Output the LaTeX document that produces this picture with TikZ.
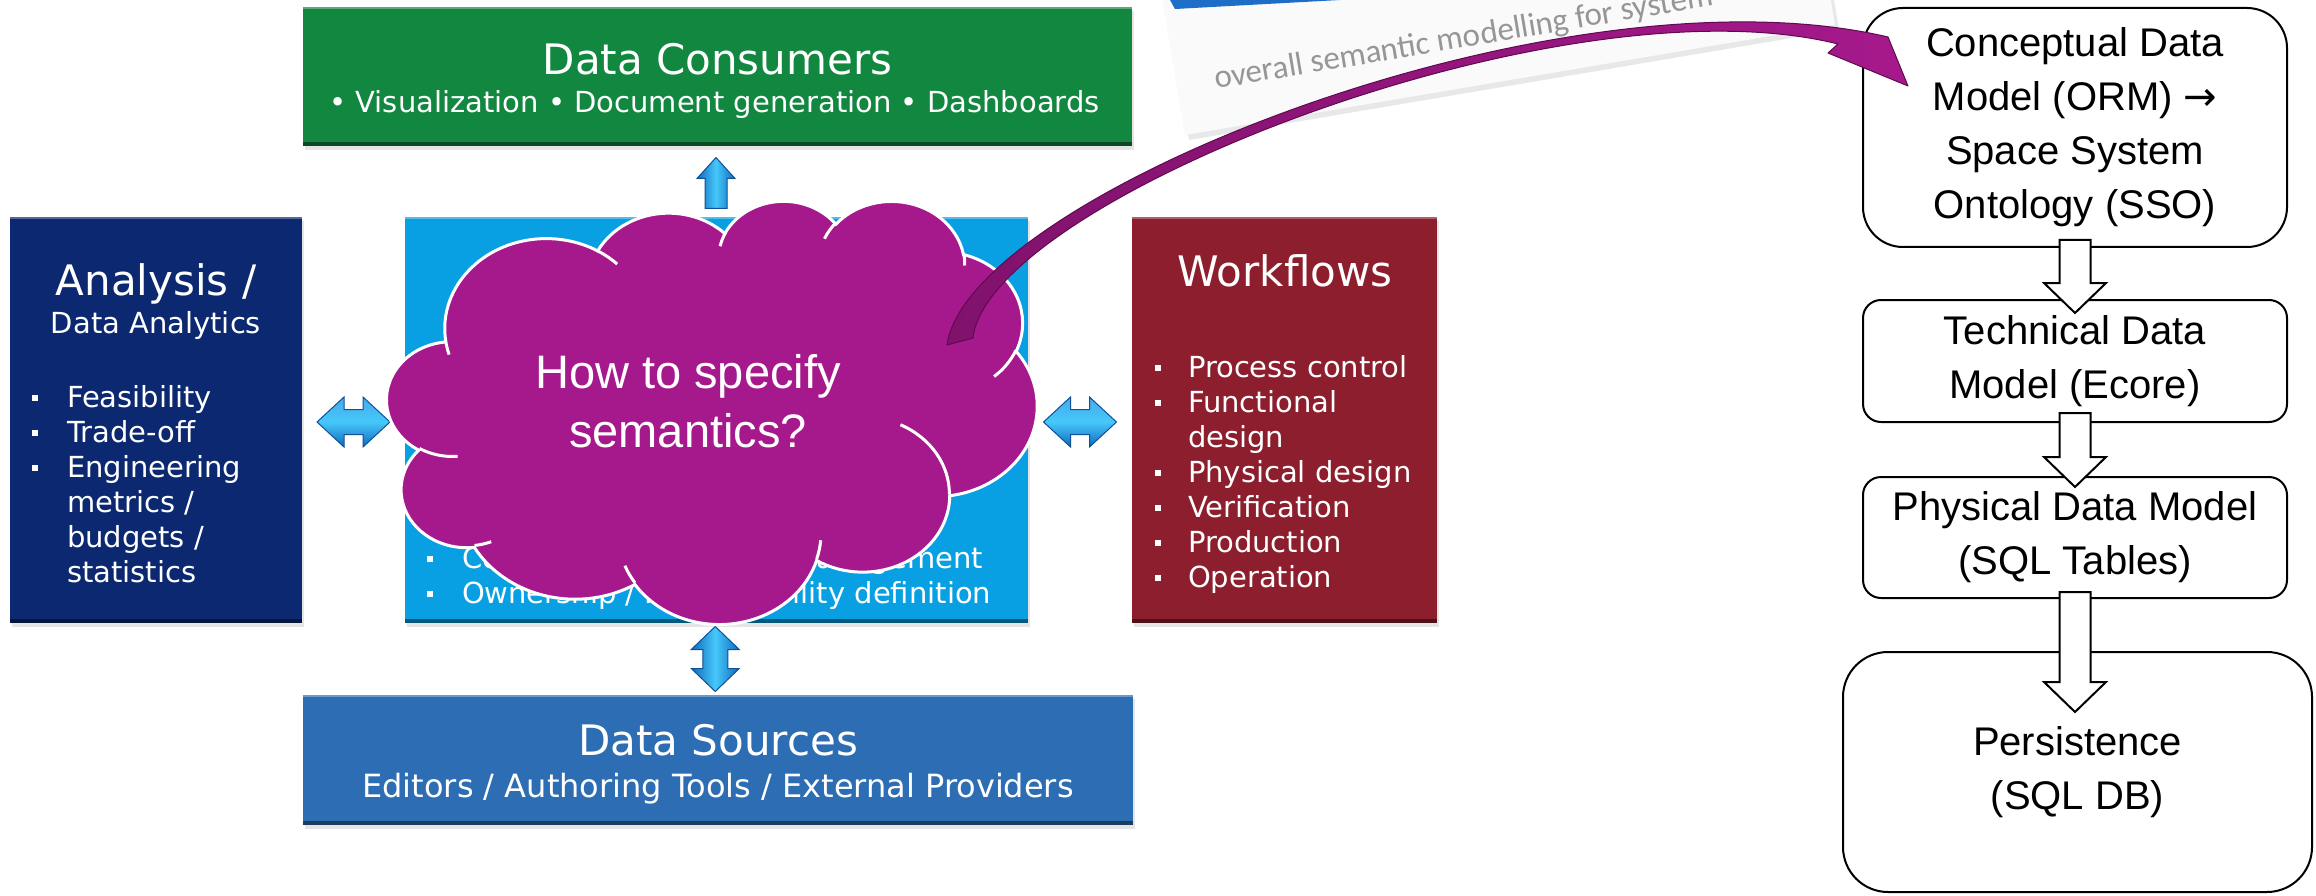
\documentclass[tikz,border=0pt]{standalone}
\usepackage{tikz}
\usepackage{fontspec}
\setmainfont{Liberation Sans}
\newfontfamily\dv{DejaVu Sans}
\newfontfamily\carl{Carlito}
\usetikzlibrary{calc,shadows}

\definecolor{cgreen}{RGB}{18,135,64}
\definecolor{cnavy}{RGB}{11,40,112}
\definecolor{ccyan}{RGB}{8,160,226}
\definecolor{cred}{RGB}{140,30,46}
\definecolor{cblue}{RGB}{44,109,179}
\definecolor{cpurple}{RGB}{166,25,140}
\definecolor{cpurpled}{RGB}{128,18,108}
\definecolor{cpurpleo}{RGB}{95,10,80}
\definecolor{bluehi}{RGB}{70,170,235}
\definecolor{bluemid}{RGB}{70,200,250}
\definecolor{bluelo}{RGB}{15,105,190}
\definecolor{bluedk}{RGB}{15,80,150}
\definecolor{ptext}{RGB}{150,150,150}
\definecolor{pblue}{RGB}{30,110,200}

\newcommand\mkarc[5]{%
  \pgfmathsetmacro\mkA{atan2((#2)*sin(#4),(#3)*cos(#4))}%
  \pgfmathsetmacro\mkB{atan2((#2)*sin((#4)+(#5)),(#3)*cos((#4)+(#5)))}%
  \pgfmathsetmacro\mkD{\mkB-\mkA}%
  \pgfmathsetmacro\mkD{\mkD+360*and(#5>0,\mkD<0)-360*and(#5<0,\mkD>0)}%
  \expandafter\xdef\csname arcS#1\endcsname{\mkA}%
  \expandafter\xdef\csname arcD#1\endcsname{\mkD}%
}
\mkarc{a}{675.3}{919.0}{-190.4875}{123.7805}
\mkarc{b}{533.3}{726.7}{-144.1024}{89.9452}
\mkarc{c}{436.5}{594.5}{-145.8079}{99.7230}
\mkarc{d}{485.7}{659.5}{-130.9861}{117.2417}
\mkarc{e}{533.3}{727.3}{-78.7089}{109.0269}
\mkarc{f}{677.5}{922.0}{-46.2673}{130.2690}
\mkarc{g}{578.5}{786.7}{0.6250}{114.0333}
\mkarc{h}{675.2}{921.5}{22.4516}{115.1726}
\mkarc{i}{772.0}{1054.3}{66.2426}{75.7110}
\mkarc{j}{436.0}{591.8}{-274.9421}{146.7356}
\mkarc{k}{434.5}{594.5}{-246.8285}{152.5189}
\mkarc{ia}{434.5}{594.5}{86.7420}{26.4295}
\mkarc{ib}{436.0}{591.8}{73.6105}{11.4475}
\mkarc{ic}{675.2}{921.5}{137.6242}{14.0811}
\mkarc{id}{675.2}{921.5}{6.4533}{15.9984}
\mkarc{ie}{578.5}{786.7}{-70.2924}{70.9174}
\mkarc{if}{533.3}{727.3}{30.3180}{27.7515}
\mkarc{ig}{485.7}{659.5}{-13.7443}{14.8589}
\mkarc{ih}{485.7}{659.5}{-149.1815}{18.1954}
\mkarc{ii}{436.5}{594.5}{-163.4943}{17.6864}
\mkarc{ij}{675.3}{919.0}{-66.7070}{12.3194}
\mkarc{ik}{675.3}{919.0}{157.6544}{11.8582}

\newcommand\rim[2]{%
  \draw[line width=4pt,#2!55!black] ([yshift=2pt]#1.south west) -- ([yshift=2pt]#1.south east);
  \draw[line width=2pt,#2!70!white] ([yshift=-1pt]#1.north west) -- ([yshift=-1pt]#1.north east);
}

\begin{document}
\begin{tikzpicture}[x=1pt,y=-1pt,
  wt/.style={text=white, inner sep=0pt, outer sep=0pt},
  ttl/.style={font=\dv\fontsize{42}{50}\selectfont},
  lst/.style={font=\dv\fontsize{29}{35}\selectfont},
  cbox/.style={rectangle, inner sep=0pt, outer sep=0pt,
    drop shadow={shadow xshift=2pt, shadow yshift=-4pt, opacity=0.2}},
  rbox/.style={rectangle, draw=black, line width=2pt, fill=white, rounded corners=#1,
    align=center, inner sep=0pt, outer sep=0pt, font=\fontsize{40}{54}\selectfont},
  warrow/.style={fill=white, draw=black, line width=2pt, line join=miter},
  barrowh/.style={top color=bluehi, bottom color=bluelo, middle color=bluemid, draw=bluedk, line width=1pt},
  barrowv/.style={left color=bluelo, right color=bluelo, middle color=bluemid, draw=bluedk, line width=1pt},
  cloudst/.style={fill=cpurple, draw=white, line width=3pt},
  cloudin/.style={draw=white, line width=3pt},
  bul/.style={fill=white},
]
\useasboundingbox (0,0) rectangle (2316,896);
\fill[white] (0,0) rectangle (2316,896);

% rotated screenshot fragment at the top
\begin{scope}
  \clip (0,0) rectangle (2316,896);
  \fill[black!9] (1189,140) -- (1839,30) -- (1806,-167) -- (1156,-57) -- cycle;
  \fill[black!2] (1185,135) -- (1835,25) -- (1802,-172) -- (1152,-62) -- cycle;
  \fill[pblue] (1170,0) -- (1175,9) -- (1340,0) -- cycle;
  \node[rotate=9.5, anchor=base west, inner sep=0pt, text=ptext,
        font=\carl\fontsize{33}{40}\selectfont] (ovl) at (1216,89)
        {overall semantic modelling for system};
\end{scope}

% coloured boxes
\node[cbox, fill=cgreen, minimum width=829pt, minimum height=139pt] (cons) at (717.5,76.5) {};
\node[cbox, fill=cnavy, minimum width=292pt, minimum height=406pt] (ana) at (156,420) {};
\node[cbox, fill=ccyan, minimum width=623pt, minimum height=406pt] (cen) at (716.5,420) {};
\node[cbox, fill=cred, minimum width=305pt, minimum height=406pt] (wf) at (1284.5,420) {};
\node[cbox, fill=cblue, minimum width=830pt, minimum height=130pt] (src) at (718,760) {};
\rim{cons}{cgreen}
\rim{ana}{cnavy}
\rim{cen}{ccyan}
\rim{wf}{cred}
\rim{src}{cblue}

% texts of coloured boxes
\node[wt, ttl, anchor=base] (consT) at (717.5,75) {Data Consumers};
\node[wt, lst, anchor=base] (consS) at (714.5,113) {• Visualization • Document generation • Dashboards};
\node[wt, ttl, anchor=base] (anaT) at (156,295) {Analysis /};
\node[wt, lst, anchor=base] (anaS) at (156,333) {Data Analytics};
\foreach \b/\t [count=\i from 0] in {1/Feasibility,1/Trade-off,1/Engineering,0/{metrics /},0/{budgets /},0/statistics}{
  \node[wt, lst, anchor=base west] (anl\i) at (67,407+35*\i) {\t};
  \ifnum\b=1 \fill[bul] (32,395+35*\i) rectangle (38,401+35*\i); \fi
}
\node[wt, ttl, anchor=base] (wfT) at (1285,287) {Workflows};
\foreach \b/\t [count=\i from 0] in {1/Process control,1/Functional,0/design,1/Physical design,1/Verification,1/Production,1/Operation}{
  \node[wt, lst, anchor=base west] (wfl\i) at (1188,377+35*\i) {\t};
  \ifnum\b=1 \fill[bul] (1155,365+35*\i) rectangle (1161,371+35*\i); \fi
}
\foreach \t [count=\i from 0] in {Configuration/Change management,Ownership / Responsibility definition}{
  \node[wt, lst, anchor=base west] (cl\i) at (462,568+35*\i) {\t};
  \fill[bul] (427,556+35*\i) rectangle (433,562+35*\i);
}
\node[wt, ttl, anchor=base] (srcT) at (718,755) {Data Sources};
\node[wt, anchor=base, font=\dv\fontsize{32}{38}\selectfont] (srcS) at (718,797) {Editors / Authoring Tools / External Providers};

% blue block arrows
\coordinate (uarr) at ($(cen.north)!0.5!(cons.south)+(-1,1)$);
\shadedraw[barrowv] ($(uarr)+(0,-25)$) -- ($(uarr)+(19,-4)$) -- ($(uarr)+(11,-4)$) -- ($(uarr)+(11,26)$)
  -- ($(uarr)+(-11,26)$) -- ($(uarr)+(-11,-4)$) -- ($(uarr)+(-19,-4)$) -- cycle;
\coordinate (larr) at ($(ana.east)!0.5!(cen.west)+(0,2)$);
\coordinate (rarr) at ($(cen.east)!0.5!(wf.west)+(0,2)$);
\foreach \c in {larr,rarr}{
  \shadedraw[barrowh] ($(\c)+(-36.5,0)$) -- ($(\c)+(-9.5,-25)$) -- ($(\c)+(-9.5,-12.5)$) -- ($(\c)+(9.5,-12.5)$)
    -- ($(\c)+(9.5,-25)$) -- ($(\c)+(36.5,0)$) -- ($(\c)+(9.5,25)$) -- ($(\c)+(9.5,12.5)$)
    -- ($(\c)+(-9.5,12.5)$) -- ($(\c)+(-9.5,25)$) -- cycle;
}
\coordinate (darr) at ($(cen.south)!0.5!(src.north)+(-2,0)$);
\shadedraw[barrowv] ($(darr)+(0,-32.5)$) -- ($(darr)+(24,-9.5)$) -- ($(darr)+(12.5,-9.5)$) -- ($(darr)+(12.5,9.5)$)
  -- ($(darr)+(24,9.5)$) -- ($(darr)+(0,32.5)$) -- ($(darr)+(-24,9.5)$) -- ($(darr)+(-12.5,9.5)$)
  -- ($(darr)+(-12.5,-9.5)$) -- ($(darr)+(-24,-9.5)$) -- cycle;

% cloud
\begin{scope}[shift={(387,200)}, xscale=650/4320, yscale=423/4320]
  \filldraw[cloudst] (390,1437)
    arc[start angle=\arcSa, delta angle=\arcDa, x radius=675.3, y radius=919.0]
    arc[start angle=\arcSb, delta angle=\arcDb, x radius=533.3, y radius=726.7]
    arc[start angle=\arcSc, delta angle=\arcDc, x radius=436.5, y radius=594.5]
    arc[start angle=\arcSd, delta angle=\arcDd, x radius=485.7, y radius=659.5]
    arc[start angle=\arcSe, delta angle=\arcDe, x radius=533.3, y radius=727.3]
    arc[start angle=\arcSf, delta angle=\arcDf, x radius=677.5, y radius=922.0]
    arc[start angle=\arcSg, delta angle=\arcDg, x radius=578.5, y radius=786.7]
    arc[start angle=\arcSh, delta angle=\arcDh, x radius=675.2, y radius=921.5]
    arc[start angle=\arcSi, delta angle=\arcDi, x radius=772.0, y radius=1054.3]
    arc[start angle=\arcSj, delta angle=\arcDj, x radius=436.0, y radius=591.8]
    arc[start angle=\arcSk, delta angle=\arcDk, x radius=434.5, y radius=594.5]
    -- cycle;
  \draw[cloudin]
    (469.3,2617.7) arc[start angle=\arcSia, delta angle=\arcDia, x radius=434.5, y radius=594.5]
    (692.8,3489.9) arc[start angle=\arcSib, delta angle=\arcDib, x radius=436.0, y radius=591.8]
    (1647.8,3909.0) arc[start angle=\arcSic, delta angle=\arcDic, x radius=675.2, y radius=921.5]
    (2882.7,3475.1) arc[start angle=\arcSid, delta angle=\arcDid, x radius=675.2, y radius=921.5]
    (3412.9,2295.4) arc[start angle=\arcSie, delta angle=\arcDie, x radius=578.5, y radius=786.7]
    (4179.8,1535.4) arc[start angle=\arcSif, delta angle=\arcDif, x radius=533.3, y radius=727.3]
    (3832.4,542.6) arc[start angle=\arcSig, delta angle=\arcDig, x radius=485.7, y radius=659.5]
    (2907.8,395.2) arc[start angle=\arcSih, delta angle=\arcDih, x radius=485.7, y radius=659.5]
    (2214.1,472.0) arc[start angle=\arcSii, delta angle=\arcDii, x radius=436.5, y radius=594.5]
    (1400.0,519.2) arc[start angle=\arcSij, delta angle=\arcDij, x radius=675.3, y radius=919.0]
    (412.7,1578.9) arc[start angle=\arcSik, delta angle=\arcDik, x radius=675.3, y radius=919.0];
\end{scope}
\node[wt, anchor=base, font=\fontsize{47}{59}\selectfont] (q1) at (688,388) {How to specify};
\node[wt, anchor=base, font=\fontsize{47}{59}\selectfont] (q2) at (688,447) {semantics?};

% right-hand chain
\node[rbox=40pt, minimum width=424pt, minimum height=239pt] (b1) at (2075,127.5)
  {Conceptual Data\\Model (ORM) {\dv →}\\Space System\\Ontology (SSO)};
\node[rbox=18pt, minimum width=424pt, minimum height=122pt] (b2) at (2075,361)
  {Technical Data\\Model (Ecore)};
\node[rbox=18pt, minimum width=424pt, minimum height=121pt] (b3) at (2075,537.5)
  {Physical Data Model\\(SQL Tables)};
\node[rbox=45pt, minimum width=469pt, minimum height=240pt] (b4) at (2077.5,772)
  {Persistence\\(SQL DB)};

\draw[warrow] let \p1=($(b1.south)+(0,-7)$), \p2=($(b2.north)+(0,13)$) in
  (\x1-15.5pt,\y1) -- (\x1-15.5pt,\y2+30pt) -- (\x1-31pt,\y2+30pt) -- (\x1,\y2)
  -- (\x1+31pt,\y2+30pt) -- (\x1+15.5pt,\y2+30pt) -- (\x1+15.5pt,\y1) -- cycle;
\draw[warrow] let \p1=($(b2.south)+(0,-9)$), \p2=($(b3.north)+(0,10)$) in
  (\x1-15.5pt,\y1) -- (\x1-15.5pt,\y2+30pt) -- (\x1-31pt,\y2+30pt) -- (\x1,\y2)
  -- (\x1+31pt,\y2+30pt) -- (\x1+15.5pt,\y2+30pt) -- (\x1+15.5pt,\y1) -- cycle;
\draw[warrow] let \p1=($(b3.south)+(0,-6)$), \p2=($(b4.north)+(0,60)$) in
  (\x1-15.5pt,\y1) -- (\x1-15.5pt,\y2+30pt) -- (\x1-31pt,\y2+30pt) -- (\x1,\y2)
  -- (\x1+31pt,\y2+30pt) -- (\x1+15.5pt,\y2+30pt) -- (\x1+15.5pt,\y1) -- cycle;

% curved purple arrow from the cloud to the conceptual model
\coordinate (ptailA) at (947,345);
\coordinate (ptailB) at (973,338);
\coordinate (ptip) at (1908,86);
\shadedraw[left color=cpurpled, right color=cpurple, draw=cpurpleo, line width=1pt, line join=round]
  (ptailA) .. controls (968,195) and (1560,-40) .. (1888,37) -- (ptip) -- (1828,53) -- (1838,44)
  .. controls (1560,-25) and (988,201) .. (ptailB) -- cycle;
\end{tikzpicture}
\end{document}
